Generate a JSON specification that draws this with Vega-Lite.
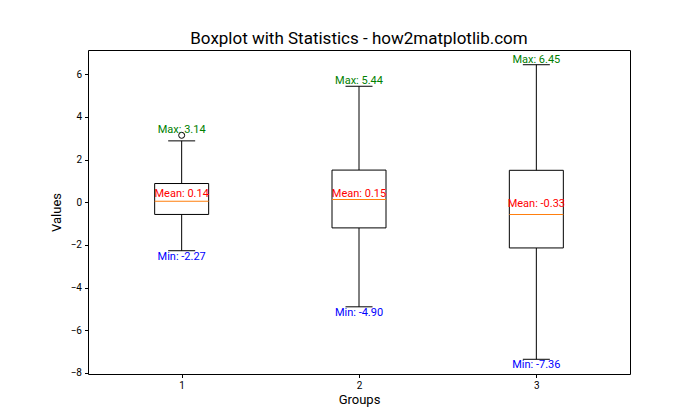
{
  "$schema": "https://vega.github.io/schema/vega-lite/v6.json",
  "width": 542,
  "height": 324,
  "autosize": "none",
  "padding": {"left": 88, "top": 50, "right": 70, "bottom": 46},
  "background": "white",
  "title": {"text": "Boxplot with Statistics - how2matplotlib.com", "fontSize": 17, "font": "Roboto", "fontWeight": "normal", "color": "black", "offset": 2},
  "config": {
    "view": {"stroke": "black", "strokeWidth": 1},
    "axis": {"domain": false, "grid": false, "tickColor": "black", "tickSize": 3.5, "labelColor": "black", "labelFontSize": 10, "labelFont": "Roboto", "titleFont": "Roboto", "titleFontSize": 13, "titleFontWeight": "normal", "titleColor": "black"}
  },
  "datasets": {
    "stats": [
      {"group": 1, "q1": -0.57, "median": 0.05, "q3": 0.88, "lo": -2.27, "hi": 2.88, "mean": 0.14, "max": 3.14, "min": -2.27, "maxLabel": "Max: 3.14", "meanLabel": "Mean: 0.14", "minLabel": "Min: -2.27"},
      {"group": 2, "q1": -1.2, "median": 0.13, "q3": 1.51, "lo": -4.9, "hi": 5.44, "mean": 0.15, "max": 5.44, "min": -4.9, "maxLabel": "Max: 5.44", "meanLabel": "Mean: 0.15", "minLabel": "Min: -4.90"},
      {"group": 3, "q1": -2.14, "median": -0.57, "q3": 1.5, "lo": -7.36, "hi": 6.45, "mean": -0.33, "max": 6.45, "min": -7.36, "maxLabel": "Max: 6.45", "meanLabel": "Mean: -0.33", "minLabel": "Min: -7.36"}
    ],
    "outliers": [
      {"group": 1, "value": 3.14}
    ]
  },
  "data": {"name": "stats"},
  "encoding": {
    "x": {"field": "group", "type": "quantitative", "scale": {"domain": [0.5, 3.5], "nice": false, "zero": false}, "axis": {"values": [1, 2, 3], "title": "Groups", "labelPadding": 3, "titlePadding": 3, "format": "d"}}
  },
  "layer": [
    {
      "mark": {"type": "rule", "color": "black", "strokeWidth": 1},
      "encoding": {
        "y": {"field": "lo", "type": "quantitative", "scale": {"domain": [-8.05, 7.14], "nice": false, "zero": false}, "axis": {"values": [-8, -6, -4, -2, 0, 2, 4, 6], "title": "Values", "labelPadding": 3, "titlePadding": 7}},
        "y2": {"field": "hi"}
      }
    },
    {
      "mark": {"type": "bar", "size": 54, "fill": "white", "stroke": "black", "strokeWidth": 1},
      "encoding": {"y": {"field": "q1", "type": "quantitative"}, "y2": {"field": "q3"}}
    },
    {
      "mark": {"type": "tick", "orient": "horizontal", "size": 27, "thickness": 1, "color": "black", "opacity": 1},
      "encoding": {"y": {"field": "lo", "type": "quantitative"}}
    },
    {
      "mark": {"type": "tick", "orient": "horizontal", "size": 27, "thickness": 1, "color": "black", "opacity": 1},
      "encoding": {"y": {"field": "hi", "type": "quantitative"}}
    },
    {
      "mark": {"type": "tick", "orient": "horizontal", "size": 54, "thickness": 1, "color": "#ff7f0e", "opacity": 1},
      "encoding": {"y": {"field": "median", "type": "quantitative"}}
    },
    {
      "data": {"name": "outliers"},
      "mark": {"type": "point", "shape": "circle", "size": 36, "filled": false, "stroke": "black", "strokeWidth": 1, "opacity": 1},
      "encoding": {"y": {"field": "value", "type": "quantitative"}}
    },
    {
      "mark": {"type": "text", "color": "green", "baseline": "bottom", "fontSize": 11, "font": "Roboto", "align": "center"},
      "encoding": {"y": {"field": "max", "type": "quantitative"}, "text": {"field": "maxLabel"}}
    },
    {
      "mark": {"type": "text", "color": "red", "baseline": "bottom", "fontSize": 11, "font": "Roboto", "align": "center"},
      "encoding": {"y": {"field": "mean", "type": "quantitative"}, "text": {"field": "meanLabel"}}
    },
    {
      "mark": {"type": "text", "color": "blue", "baseline": "top", "fontSize": 11, "font": "Roboto", "align": "center"},
      "encoding": {"y": {"field": "min", "type": "quantitative"}, "text": {"field": "minLabel"}}
    }
  ]
}
